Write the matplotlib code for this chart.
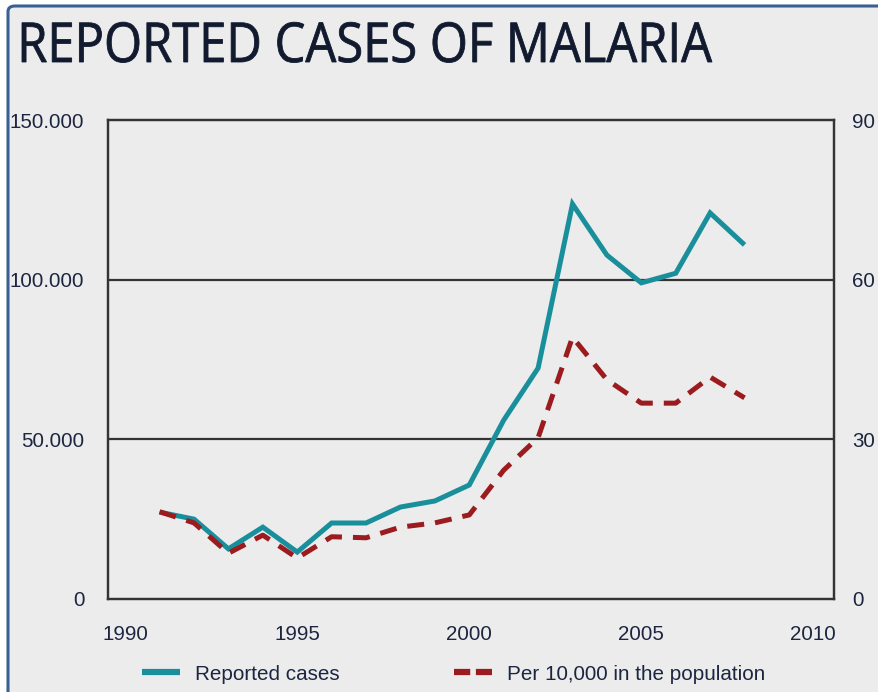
import matplotlib.pyplot as plt
from matplotlib.lines import Line2D
from matplotlib.patches import FancyBboxPatch, PathPatch
from matplotlib.textpath import TextPath
from matplotlib.font_manager import FontProperties
from matplotlib.transforms import Affine2D, IdentityTransform

# data
years = [1991, 1992, 1993, 1994, 1995, 1996, 1997, 1998, 1999,
         2000, 2001, 2002, 2003, 2004, 2005, 2006, 2007, 2008]
reported_cases = [27200, 25000, 15700, 22500, 14700, 23800, 23800, 28800, 30700,
                  35700, 56000, 72300, 123700, 107700, 99000, 102000, 120900, 110900]
per_10000 = [16.4, 14.3, 8.6, 12.0, 7.7, 11.7, 11.5, 13.5, 14.3,
             15.8, 24.2, 30.3, 49.2, 41.2, 36.8, 36.8, 41.7, 37.8]

left_ticks = [0, 50000, 100000, 150000]
left_labels = ["0", "50.000", "100.000", "150.000"]
right_ticks = [0, 30, 60, 90]
x_ticks = [1990, 1995, 2000, 2005, 2010]
title = "REPORTED CASES OF MALARIA"

teal = "#1a8f9c"
red = "#9b1b1f"
bg = "#ececec"
txt = "#1c2640"
frame = "#333333"

plt.rcParams["font.family"] = ["Liberation Sans", "DejaVu Sans"]

W, H = 879, 692
fig = plt.figure(figsize=(W / 100, H / 100), dpi=100, facecolor="white")

# panel with blue border, rounded top-left corner
panel = FancyBboxPatch((8 / W, -0.1), 1.2, 1 - 6 / H + 0.1,
                       boxstyle="round,pad=0,rounding_size=0.008",
                       transform=fig.transFigure, facecolor=bg,
                       edgecolor="#3a5f95", linewidth=2.2, zorder=-10)
fig.patches.append(panel)

# condensed title: squeeze a text path horizontally (pixels, origin bottom-left)
tp = TextPath((0, 0), title, size=55, prop=FontProperties(family="Open Sans"))
ext = tp.get_extents()
sx = 690 / ext.width
tr = Affine2D().translate(-ext.x0, 0).scale(sx, 1.0).translate(22, H - 62)
title_patch = PathPatch(tr.transform_path(tp), facecolor="#111a2e", edgecolor="#111a2e",
                        linewidth=0.6, transform=IdentityTransform())
fig.patches.append(title_patch)

ax = fig.add_axes([108 / W, 1 - 599 / H, (834 - 108) / W, (599 - 120) / H])
ax.set_facecolor(bg)
ax2 = ax.twinx()

ax.plot(years, reported_cases, color=teal, lw=3.6, solid_capstyle="butt",
        solid_joinstyle="miter", zorder=3)
ax2.plot(years, per_10000, color=red, lw=3.6, linestyle=(0, (3.4, 2.2)),
         dash_capstyle="butt", zorder=3)

ax.set_xlim(1989.5, 2010.6)
ax.set_ylim(0, 150000)
ax2.set_ylim(0, 90)

ax.set_xticks(x_ticks)
ax.set_xticklabels([str(x) for x in x_ticks])
ax.set_yticks(left_ticks)
ax.set_yticklabels(left_labels)
ax2.set_yticks(right_ticks)
ax2.set_yticklabels([str(t) for t in right_ticks])

ax.tick_params(axis="x", length=0, pad=19, labelsize=14.8, labelcolor=txt)
ax.tick_params(axis="y", length=0, pad=17, labelsize=14.8, labelcolor=txt)
ax2.tick_params(axis="y", length=0, pad=13, labelsize=14.8, labelcolor=txt)

for a in (ax, ax2):
    for s in a.spines.values():
        s.set_color(frame)
        s.set_linewidth(1.6)

for v in [50000, 100000]:
    ax.axhline(v, color=frame, lw=1.6, zorder=1)

handles = [
    Line2D([], [], color=teal, lw=4.5, solid_capstyle="butt"),
    Line2D([], [], color=red, lw=4.5, linestyle=(0, (2.6, 0.9)), dash_capstyle="butt"),
]
fig.legend(handles, ["Reported cases", "Per 10,000 in the population"],
           loc="center left", bbox_to_anchor=(142 / W, 1 - 674 / H),
           bbox_transform=fig.transFigure, ncol=2, frameon=False,
           fontsize=14.9, labelcolor=txt, handlelength=1.85, handletextpad=0.72,
           columnspacing=5.5, borderpad=0, borderaxespad=0)

fig.savefig("out.png", dpi=100, facecolor="white")
